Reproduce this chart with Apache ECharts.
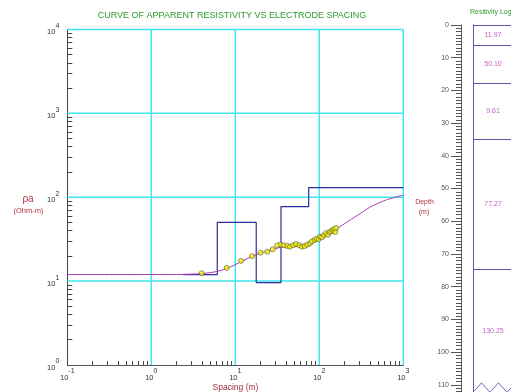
<!DOCTYPE html>
<html><head><meta charset="utf-8">
<script src="https://cdn.jsdelivr.net/npm/echarts@6/dist/echarts.min.js"></script>
<style>html,body{margin:0;padding:0;background:#fff}#c{width:511px;height:392px}</style>
</head><body><div id="c"></div>
<script>
// Measured apparent resistivity (field points)
const spacing = [3.98, 7.9, 11.7, 15.8, 20.0, 24.0, 27.9, 31.6, 34.7, 38.0, 41.6, 44.8, 49.0, 52.8, 57.8, 62.2, 67.0, 72.0, 77.5, 81.8, 88.1, 93.0, 98.3, 102, 108, 114, 120, 127, 132, 139, 144, 150, 155, 158];
const apparentRes = [12.4, 14.4, 17.4, 19.8, 21.8, 22.4, 23.9, 26.7, 27.2, 26.7, 26.2, 25.7, 26.7, 27.7, 26.7, 25.7, 26.2, 27.2, 28.2, 29.8, 30.9, 32.0, 31.5, 33.8, 33.3, 35.2, 37.2, 35.8, 38.5, 39.2, 40.7, 41.4, 38.5, 42.9];
// Model (calculated) curve
const curveSpacing = [0.1, 0.5, 1, 2, 3, 4, 6, 8, 10, 12, 16, 20, 25, 30, 35, 40, 50, 60, 70, 80, 100, 120, 150, 176, 240, 331, 400, 630, 1000];
const curveRes = [11.97, 11.97, 11.98, 12.0, 12.1, 12.3, 13.0, 14.2, 15.7, 17.2, 19.8, 21.6, 23.0, 24.4, 25.3, 25.8, 26.2, 26.5, 27.2, 28.5, 31.8, 35.5, 40.8, 44.5, 54.5, 67, 76, 93, 106];
// Layered model
const layerRes = [11.97, 50.10, 9.61, 77.27, 130.25];
const layerTop = [0, 6.1, 17.75, 35, 74.7];
const depthMax = 112.3;
const modelStart = 2.4;
const modelEnd = 1000;
// Tick / grid values
const spacingDecades = [0.1, 1, 10, 100, 1000];
const resDecades = [1, 10, 100, 1000, 10000];
const depthTicks = [0, 10, 20, 30, 40, 50, 60, 70, 80, 90, 100, 110];
// Break symbol at bottom of the log column (x in column px units, depth in m)
const breakX = [0, 8.5, 17, 25.5, 34, 42.5, 51];
const breakDepth = [112.3, 109.4, 112.3, 109.4, 112.3, 109.4, 112.3];

const FONT = "'Liberation Sans', Arial, sans-serif";
const GRID_CYAN = '#3fe6ee';
const supRich = {
  b: {fontSize: 7.5, lineHeight: 14, verticalAlign: 'bottom', color: '#333', fontFamily: FONT},
  s: {fontSize: 7, lineHeight: 8, verticalAlign: 'top', color: '#333', fontFamily: FONT}
};
const powLabel = v => '{b|10}{s|' + Math.round(Math.log10(v)) + '}';
function minorValues(decades) {
  const r = [];
  for (let i = 0; i < decades.length - 1; i++) for (let k = 2; k <= 9; k++) r.push(+(decades[i] * k).toPrecision(6));
  return r;
}
const depthMinor = [];
for (let d = 0; d <= 112; d++) depthMinor.push(d);

const stepData = [[modelStart, layerRes[0]]];
for (let i = 1; i < layerRes.length; i++) {
  stepData.push([layerTop[i], layerRes[i - 1]]);
  stepData.push([layerTop[i], layerRes[i]]);
}
stepData.push([modelEnd, layerRes[layerRes.length - 1]]);

const layerLabels = layerRes.map((r, i) => {
  const bottom = i + 1 < layerTop.length ? layerTop[i + 1] : depthMax;
  return [20, (layerTop[i] + bottom) / 2, r];
});

// Decade grid lines drawn as plain line series on an upper canvas layer
const xMin = spacingDecades[0], xMax = spacingDecades[spacingDecades.length - 1];
const yMin = resDecades[0], yMax = resDecades[resDecades.length - 1];
const gridSeries = []
  .concat(spacingDecades.slice(1).map(v => [[v, yMin], [v, yMax]]))
  .concat(resDecades.slice(1).map(v => [[xMin, v], [xMax, v]]))
  .map(pts => ({type: 'line', xAxisIndex: 0, yAxisIndex: 0, data: pts, symbol: 'none', silent: true,
    zlevel: 1, z: 1, clip: false, lineStyle: {color: GRID_CYAN, width: 1.5}, emphasis: {disabled: true}}));

const chart = echarts.init(document.getElementById('c'), null, {renderer: 'canvas'});
chart.setOption({
  animation: false,
  backgroundColor: '#fff',
  textStyle: {fontFamily: FONT},
  title: [
    {text: 'CURVE OF APPARENT RESISTIVITY VS ELECTRODE SPACING', left: 232, top: 11, textAlign: 'center', padding: 0,
     textStyle: {fontSize: 9, fontWeight: 'normal', color: '#2c9c2c', fontFamily: FONT}},
    {text: 'Resitivity Log', left: 470, top: 9, padding: 0,
     textStyle: {fontSize: 7, fontWeight: 'normal', color: '#2c9c2c', fontFamily: FONT}},
    {text: 'ρa', left: 28, top: 194, textAlign: 'center', padding: 0,
     textStyle: {fontSize: 10, fontWeight: 'normal', color: '#b03444', fontFamily: FONT}},
    {text: '(Ohm-m)', left: 28.5, top: 207, textAlign: 'center', padding: 0,
     textStyle: {fontSize: 7.5, fontWeight: 'normal', color: '#b03444', fontFamily: FONT}},
    {text: 'Depth', left: 424.5, top: 199, textAlign: 'center', padding: 0,
     textStyle: {fontSize: 7, fontWeight: 'normal', color: '#b03444', fontFamily: FONT}},
    {text: '(m)', left: 424, top: 209, textAlign: 'center', padding: 0,
     textStyle: {fontSize: 7, fontWeight: 'normal', color: '#b03444', fontFamily: FONT}},
    {text: 'Spacing (m)', left: 235.5, top: 383, textAlign: 'center', padding: 0,
     textStyle: {fontSize: 8.5, fontWeight: 'normal', color: '#a3303c', fontFamily: FONT}}
  ],
  grid: [
    {left: 67.3, top: 29.4, width: 336, height: 335.6, outerBoundsMode: 'none', containLabel: false, show: false},
    {left: 473, top: 25, width: 100, height: 367.3, outerBoundsMode: 'none', containLabel: false, show: false}
  ],
  xAxis: [
    {type: 'log', gridIndex: 0, min: 0.1, max: 1000, logBase: 10, position: 'bottom',
     axisLine: {show: true, onZero: false, lineStyle: {color: '#555', width: 1}},
     axisTick: {show: true, inside: true, length: 4, customValues: minorValues(spacingDecades), lineStyle: {color: '#444'}},
     axisLabel: {formatter: powLabel, rich: supRich, margin: 3, customValues: spacingDecades},
     splitLine: {show: false}, minorSplitLine: {show: false}},
    {type: 'value', gridIndex: 1, min: 0, max: 100, show: false, splitLine: {show: false}}
  ],
  yAxis: [
    {type: 'log', gridIndex: 0, min: 1, max: 10000, logBase: 10, position: 'left',
     axisLine: {show: true, onZero: false, lineStyle: {color: '#444', width: 1}},
     axisTick: {show: true, inside: true, length: 5, customValues: minorValues(resDecades), lineStyle: {color: '#444'}},
     axisLabel: {formatter: powLabel, rich: supRich, margin: 8, customValues: resDecades},
     splitLine: {show: false}, minorSplitLine: {show: false}},
    {type: 'value', gridIndex: 1, inverse: true, min: 0, max: depthMax, position: 'left', offset: 12,
     axisLine: {show: true, onZero: false, lineStyle: {color: '#555'}},
     axisTick: {show: true, length: 10, customValues: depthTicks, lineStyle: {color: '#555'}},
     axisLabel: {customValues: depthTicks, fontSize: 7, color: '#555', margin: 12, fontFamily: FONT},
     splitLine: {show: false}},
    {type: 'value', gridIndex: 1, inverse: true, min: 0, max: depthMax, position: 'left', offset: 12,
     axisLine: {show: false, onZero: false}, axisLabel: {show: false}, splitLine: {show: false},
     axisTick: {show: true, length: 5, customValues: depthMinor, lineStyle: {color: '#555'}}},
    {type: 'value', gridIndex: 1, inverse: true, min: 0, max: depthMax, position: 'left', offset: 0,
     axisLine: {show: true, onZero: false, lineStyle: {color: '#5a5aaa', width: 1}},
     axisTick: {show: false}, axisLabel: {show: false}, splitLine: {show: false}}
  ],
  series: gridSeries.concat([
    {type: 'line', name: 'model', xAxisIndex: 0, yAxisIndex: 0, data: stepData, symbol: 'none', zlevel: 1, z: 5,
     lineStyle: {color: '#2e2e9c', width: 1.2}},
    {type: 'line', name: 'calculated', xAxisIndex: 0, yAxisIndex: 0, smooth: 0.3, symbol: 'none', zlevel: 1, z: 6,
     data: curveSpacing.map((x, i) => [x, curveRes[i]]),
     lineStyle: {color: '#a83cb4', width: 1}},
    {type: 'scatter', name: 'observed', xAxisIndex: 0, yAxisIndex: 0, zlevel: 1, z: 7, symbolSize: 5,
     data: spacing.map((x, i) => [x, apparentRes[i]]),
     itemStyle: {color: '#f5f500', borderColor: '#444', borderWidth: 0.7}},
    {type: 'scatter', name: 'layers', xAxisIndex: 1, yAxisIndex: 1, symbolSize: 0, z: 3,
     data: layerLabels,
     label: {show: true, position: 'inside', formatter: p => p.value[2].toFixed(2), fontSize: 7, color: '#b838b8', fontFamily: FONT},
     markLine: {symbol: 'none', label: {show: false},
       lineStyle: {color: '#5a5aaa', type: 'solid', width: 1},
       data: layerTop.map(d => ({yAxis: d}))}},
    {type: 'line', name: 'break', xAxisIndex: 1, yAxisIndex: 1, symbol: 'none', z: 3,
     data: breakX.map((x, i) => [x, breakDepth[i]]),
     lineStyle: {color: '#6a6ab8', width: 1}}
  ])
});
</script>
</body></html>
